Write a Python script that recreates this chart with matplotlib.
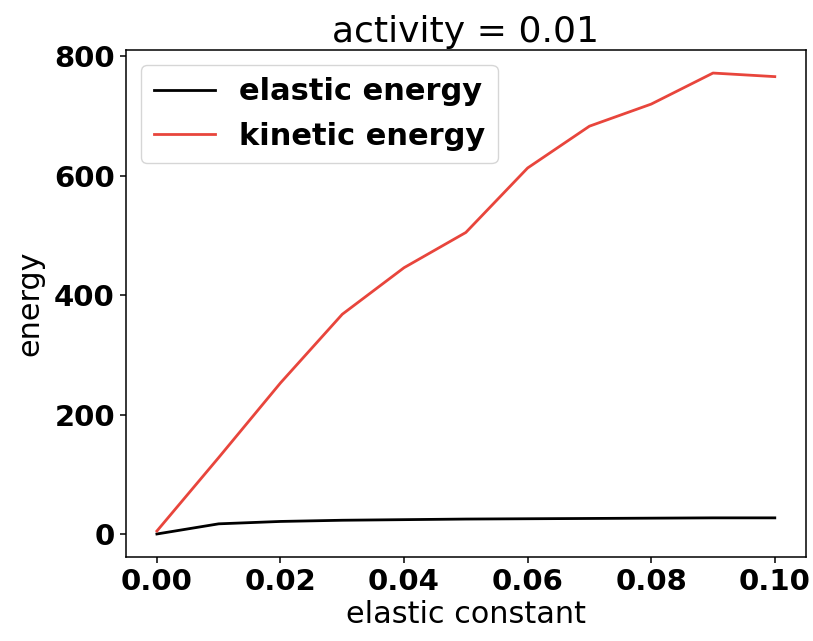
import matplotlib
matplotlib.use("Agg")
import matplotlib.pyplot as plt

elastic_constant = [0.00, 0.01, 0.02, 0.03, 0.04, 0.05, 0.06, 0.07, 0.08, 0.09, 0.10]
elastic_energy = [0, 17, 21, 23, 24, 25, 25.5, 26, 26.5, 27, 27]
kinetic_energy = [5, 128, 253, 368, 446, 505, 613, 683, 720, 772, 766]

fig = plt.figure(figsize=(8.13, 6.41), dpi=100)
ax = fig.add_axes([0.155, 0.131, 0.836, 0.791])

ax.plot(elastic_constant, elastic_energy, color="black", lw=2, label="elastic energy")
ax.plot(elastic_constant, kinetic_energy, color="#e8453c", lw=2, label="kinetic energy")

ax.set_title("activity = 0.01", fontsize=26)
ax.set_xlabel("elastic constant", fontsize=21.8, labelpad=3)
ax.set_ylabel("energy", fontsize=21.8, labelpad=7)
ax.set_xticks([0.00, 0.02, 0.04, 0.06, 0.08, 0.10])
ax.set_yticks([0, 200, 400, 600, 800])
ax.tick_params(length=4.5, width=1.1)
for s in ax.spines.values():
    s.set_linewidth(1.1)
for lab in ax.get_xticklabels() + ax.get_yticklabels():
    lab.set_fontweight("bold")
    lab.set_fontsize(21)
ax.legend(loc="upper left", prop={"weight": "bold", "size": 22})

fig.savefig("out.png", dpi=100)
